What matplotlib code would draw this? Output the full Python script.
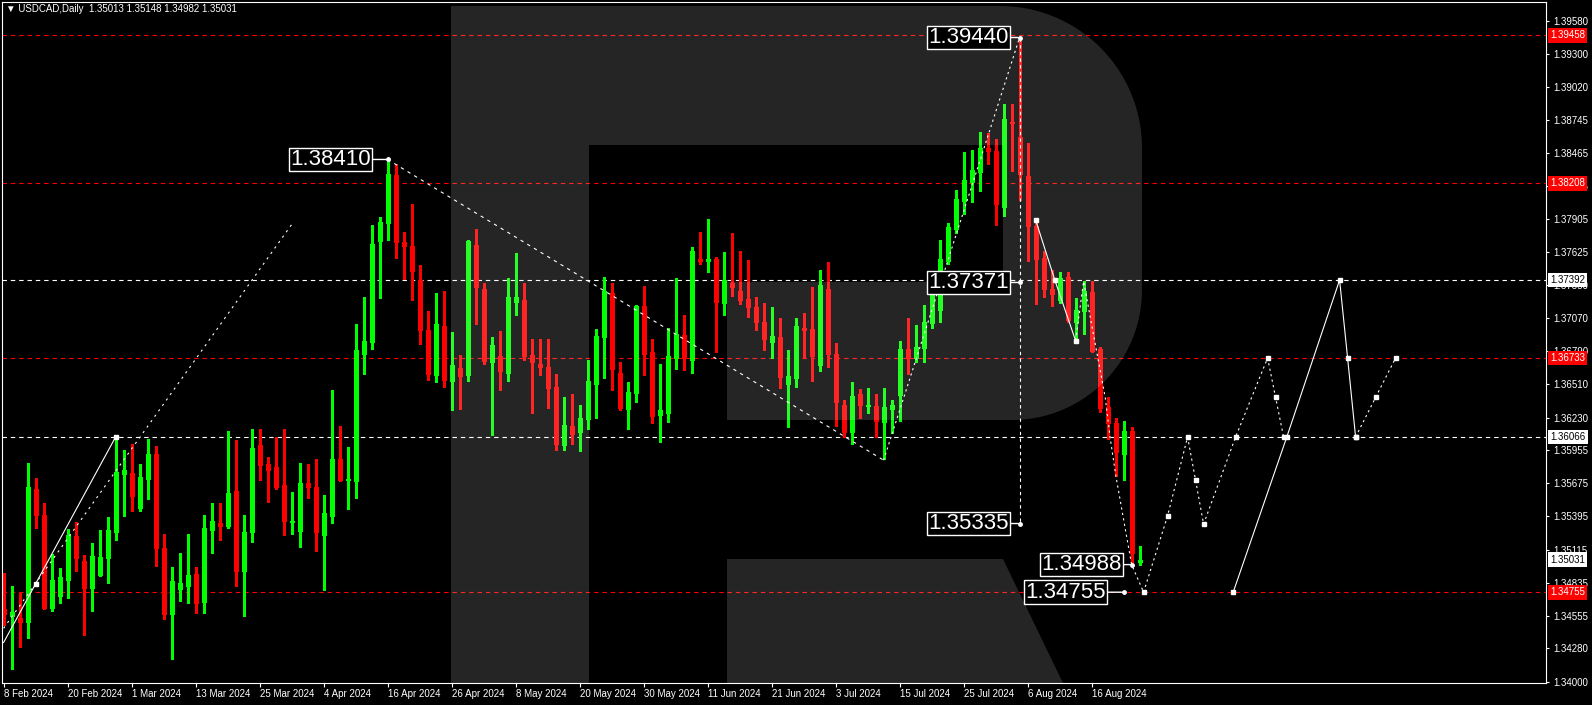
import numpy as np
import matplotlib
matplotlib.use("Agg")
import matplotlib.pyplot as plt
from matplotlib.path import Path
from matplotlib.patches import PathPatch
import matplotlib.transforms as mtransforms

plt.rcParams['font.family'] = ['Liberation Sans', 'DejaVu Sans']

# ---------------- data ----------------
title = "\u25BC USDCAD,Daily  1.35013 1.35148 1.34982 1.35031"

opens = [1.3461, 1.3455, 1.3454, 1.3450, 1.3563, 1.3541, 1.3462, 1.3472, 1.3486, 1.3523,
         1.3502, 1.3479, 1.3490, 1.3504, 1.3526, 1.3575, 1.3576, 1.3547, 1.3571, 1.3592,
         1.3513, 1.3457, 1.3478, 1.3481, 1.3491, 1.3467, 1.3528, 1.3534, 1.3531, 1.3561,
         1.3493, 1.3526, 1.3600, 1.3584, 1.3581, 1.3566, 1.3535, 1.3527, 1.3568, 1.3564,
         1.3524, 1.3540, 1.3588, 1.3570, 1.3569, 1.3677, 1.3687, 1.3772, 1.3787, 1.3828,
         1.3771, 1.3768, 1.3739, 1.3697, 1.3659, 1.3700, 1.3654, 1.3665, 1.3659, 1.3769,
         1.3732, 1.3670, 1.3675, 1.3661, 1.3721, 1.3722, 1.3676, 1.3668, 1.3666, 1.3649,
         1.3600, 1.3616, 1.3611, 1.3622, 1.3651, 1.3691, 1.3728, 1.3661, 1.3630, 1.3644,
         1.3717, 1.3678, 1.3625, 1.3627, 1.3673, 1.3693, 1.3672, 1.3757, 1.3755, 1.3757,
         1.3720, 1.3737, 1.3730, 1.3723, 1.3716, 1.3704, 1.3687, 1.3691, 1.3651, 1.3656,
         1.3699, 1.3698, 1.3667, 1.3732, 1.3677, 1.3634, 1.3611, 1.3643, 1.3633, 1.3633,
         1.3619, 1.3630, 1.3642, 1.3681, 1.3673, 1.3682, 1.3703, 1.3714, 1.3755, 1.3782,
         1.3806, 1.3822, 1.3830, 1.3851, 1.3848, 1.3801, 1.3873, 1.3860, 1.3827, 1.3785,
         1.3758, 1.3732, 1.3722, 1.3742, 1.3704, 1.3713, 1.3729, 1.3681, 1.3632, 1.3618,
         1.3592, 1.3612, 1.35013]
highs = [1.3492, 1.3481, 1.3475, 1.3585, 1.3572, 1.3551, 1.3508, 1.3496, 1.3529, 1.3535,
         1.3507, 1.3517, 1.3528, 1.3539, 1.3606, 1.3596, 1.3601, 1.3584, 1.3605, 1.3599,
         1.3525, 1.3497, 1.3509, 1.3525, 1.3497, 1.3541, 1.3551, 1.3551, 1.3612, 1.3604,
         1.3541, 1.3613, 1.3613, 1.3590, 1.3607, 1.3613, 1.3560, 1.3585, 1.3584, 1.3588,
         1.3558, 1.3646, 1.3616, 1.3598, 1.3702, 1.3725, 1.3786, 1.3792, 1.3841, 1.3837,
         1.3780, 1.3803, 1.3752, 1.3713, 1.3728, 1.3730, 1.3695, 1.3676, 1.3773, 1.3782,
         1.3737, 1.3691, 1.3696, 1.3741, 1.3762, 1.3737, 1.3689, 1.3689, 1.3689, 1.3660,
         1.3640, 1.3643, 1.3634, 1.3672, 1.3698, 1.3742, 1.3737, 1.3670, 1.3653, 1.3718,
         1.3734, 1.3689, 1.3668, 1.3699, 1.3741, 1.3710, 1.3767, 1.3780, 1.3791, 1.3759,
         1.3763, 1.3779, 1.3764, 1.3756, 1.3725, 1.3720, 1.3716, 1.3707, 1.3680, 1.3707,
         1.3711, 1.3733, 1.3748, 1.3754, 1.3686, 1.3638, 1.3653, 1.3647, 1.3648, 1.3643,
         1.3648, 1.3638, 1.3688, 1.3707, 1.3701, 1.3718, 1.3747, 1.3773, 1.3787, 1.3815,
         1.3847, 1.3849, 1.3864, 1.3863, 1.3858, 1.3888, 1.3888, 1.3944, 1.3855, 1.3790,
         1.3764, 1.3748, 1.3746, 1.3746, 1.3724, 1.3738, 1.3738, 1.3683, 1.3640, 1.3623,
         1.3620, 1.3615, 1.35148]
lows = [1.3448, 1.3411, 1.3429, 1.3437, 1.3530, 1.3461, 1.3460, 1.3466, 1.3471, 1.3493,
        1.3439, 1.3460, 1.3489, 1.3483, 1.3520, 1.3540, 1.3544, 1.3544, 1.3554, 1.3498,
        1.3453, 1.3419, 1.3468, 1.3466, 1.3458, 1.3458, 1.3509, 1.3520, 1.3530, 1.3481,
        1.3455, 1.3518, 1.3570, 1.3552, 1.3563, 1.3524, 1.3525, 1.3514, 1.3555, 1.3510,
        1.3477, 1.3534, 1.3569, 1.3546, 1.3555, 1.3660, 1.3681, 1.3724, 1.3773, 1.3758,
        1.3740, 1.3722, 1.3685, 1.3655, 1.3653, 1.3649, 1.3629, 1.3630, 1.3654, 1.3702,
        1.3668, 1.3608, 1.3646, 1.3654, 1.3710, 1.3672, 1.3627, 1.3659, 1.3631, 1.3596,
        1.3596, 1.3601, 1.3595, 1.3613, 1.3623, 1.3656, 1.3646, 1.3629, 1.3613, 1.3636,
        1.3659, 1.3618, 1.3602, 1.3619, 1.3664, 1.3663, 1.3661, 1.3753, 1.3746, 1.3678,
        1.3710, 1.3726, 1.3719, 1.3708, 1.3697, 1.3680, 1.3673, 1.3648, 1.3615, 1.3649,
        1.3674, 1.3654, 1.3662, 1.3666, 1.3616, 1.3607, 1.3601, 1.3623, 1.3627, 1.3607,
        1.3588, 1.3610, 1.3620, 1.3660, 1.3670, 1.3670, 1.3699, 1.3704, 1.3753, 1.3779,
        1.3795, 1.3805, 1.3814, 1.3837, 1.3786, 1.3793, 1.3831, 1.3807, 1.3755, 1.3719,
        1.3725, 1.3717, 1.3720, 1.3704, 1.3688, 1.3694, 1.3678, 1.3628, 1.3605, 1.3574,
        1.3570, 1.34988, 1.34982]
closes = [1.3457, 1.3459, 1.3450, 1.3564, 1.3541, 1.3462, 1.3486, 1.3488, 1.3524, 1.3504,
          1.3479, 1.3506, 1.3505, 1.3528, 1.3577, 1.3579, 1.3557, 1.3573, 1.3592, 1.3513,
          1.3457, 1.3485, 1.3483, 1.3490, 1.3466, 1.3530, 1.3536, 1.3531, 1.3559, 1.3493,
          1.3526, 1.3597, 1.3583, 1.3579, 1.3564, 1.3536, 1.3536, 1.3568, 1.3564, 1.3526,
          1.3542, 1.3588, 1.3570, 1.3571, 1.3680, 1.3688, 1.3770, 1.3788, 1.3829, 1.3771,
          1.3768, 1.3747, 1.3697, 1.3660, 1.3702, 1.3655, 1.3667, 1.3658, 1.3772, 1.3733,
          1.3671, 1.3684, 1.3662, 1.3725, 1.3725, 1.3675, 1.3670, 1.3666, 1.3648, 1.3601,
          1.3617, 1.3609, 1.3623, 1.3654, 1.3692, 1.3730, 1.3664, 1.3631, 1.3645, 1.3717,
          1.3677, 1.3624, 1.3629, 1.3675, 1.3694, 1.3673, 1.3764, 1.3755, 1.3757, 1.3721,
          1.3739, 1.3733, 1.3722, 1.3716, 1.3704, 1.3689, 1.3692, 1.3657, 1.3658, 1.3700,
          1.3697, 1.3675, 1.3735, 1.3677, 1.3636, 1.3611, 1.3641, 1.3634, 1.3634, 1.3620,
          1.3632, 1.3634, 1.3681, 1.3673, 1.3683, 1.3704, 1.3732, 1.3757, 1.3784, 1.3808,
          1.3824, 1.3832, 1.3851, 1.3848, 1.3803, 1.3875, 1.3872, 1.3829, 1.3785, 1.3757,
          1.3732, 1.3727, 1.3741, 1.3705, 1.3714, 1.3730, 1.3679, 1.3631, 1.3618, 1.3594,
          1.3612, 1.3509, 1.35031]

date_labels = ['8 Feb 2024', '20 Feb 2024', '1 Mar 2024', '13 Mar 2024', '25 Mar 2024',
               '4 Apr 2024', '16 Apr 2024', '26 Apr 2024', '8 May 2024', '20 May 2024',
               '30 May 2024', '11 Jun 2024', '21 Jun 2024', '3 Jul 2024', '15 Jul 2024',
               '25 Jul 2024', '6 Aug 2024', '16 Aug 2024']
date_label_bars = list(range(0, 137, 8))

price_ticks = [1.39580, 1.39300, 1.39020, 1.38745, 1.38465, 1.38185, 1.37905, 1.37625,
               1.37350, 1.37070, 1.36790, 1.36510, 1.36230, 1.35955, 1.35675, 1.35395,
               1.35115, 1.34835, 1.34555, 1.34280, 1.34000]

red_levels = [1.39458, 1.38208, 1.36733, 1.34755]
white_levels = [1.37392, 1.36066]
last_price = 1.35031

# annotated price labels (bar index, price)
label_bars = [48, 127, 127, 127, 141, 140]
label_prices = [1.38410, 1.39440, 1.37371, 1.35335, 1.34988, 1.34755]

# drawn trend / zigzag objects: (bar index list, price list)
solid_up_x = [0, 14];          solid_up_y = [1.3433, 1.36066]
dot_up_x = [0, 36];            dot_up_y = [1.3445, 1.3786]
dash_down_x = [48, 110];       dash_down_y = [1.3841, 1.3587]
dot_rally_x = [110, 127];      dot_rally_y = [1.3587, 1.3944]
vert_x = [127, 127];           vert_y = [1.3944, 1.35335]
zz_solid_x = [129, 131.4, 134]; zz_solid_y = [1.3790, 1.37392, 1.3688]
zz_dot_x = [134, 135, 137.7, 138.3, 139, 141, 142.5]
zz_dot_y = [1.3688, 1.3738, 1.3640, 1.3607, 1.3575, 1.34988, 1.34755]
fc_dot_x = [142.5, 145.5, 148, 149, 150, 154, 158, 159, 160]
fc_dot_y = [1.34755, 1.3540, 1.36066, 1.3570, 1.3533, 1.36066, 1.36733, 1.3640, 1.36066]
fc_solid_x = [153.7, 160.4, 167, 168, 169]
fc_solid_y = [1.34755, 1.36066, 1.37392, 1.36733, 1.36066]
fc_dot2_x = [169, 171.5, 174]
fc_dot2_y = [1.36066, 1.3640, 1.36733]

# ---------------- layout ----------------
W, H, DPI = 1592, 705, 100
PL, PR, PT, PB = 2, 1546, 2, 683
BAR_PX = 8.0
YMAX, YMIN = 1.39740, 1.33988

fig = plt.figure(figsize=(W / DPI, H / DPI), dpi=DPI, facecolor='black')
ax = fig.add_axes([PL / W, 1 - PB / H, (PR - PL) / W, (PB - PT) / H])
ax.set_facecolor('black')
x0 = -0.2
ax.set_xlim(x0, x0 + (PR - PL) / BAR_PX)
ax.set_ylim(YMIN, YMAX)

for s in ax.spines.values():
    s.set_color('white')
    s.set_linewidth(0.8)

# pixel transform (top-left origin) for the watermark
pix = mtransforms.Affine2D().scale(1 / DPI, -1 / DPI).translate(0, H / DPI) + fig.dpi_scale_trans

# ---------------- level lines ----------------
for lv in red_levels:
    ax.axhline(lv, color='#FF0000', lw=0.8, ls=(0, (4, 3.5)), zorder=1.5)
for lv in white_levels:
    ax.axhline(lv, color='white', lw=0.8, ls=(0, (4, 3.5)), zorder=1.5)

# ---------------- candles ----------------
o = np.array(opens); h = np.array(highs); l = np.array(lows); c = np.array(closes)
idx = np.arange(len(o))
cols = np.where(c >= o, '#00FF00', '#FF0000')
ax.vlines(idx, l, h, colors=cols, lw=0.8, zorder=2, antialiased=False)
body_b = np.minimum(o, c)
body_t = np.maximum(o, c)
body_t = np.maximum(body_t, body_b + 0.00008)
ax.vlines(idx, body_b, body_t, colors=cols, lw=3.6, zorder=2.5, antialiased=False,
          capstyle='butt')

# ---------------- watermark R ----------------
def arc(cx, cy, r, a0, a1, n=40):
    t = np.radians(np.linspace(a0, a1, n))
    return np.column_stack([cx + r * np.cos(t), cy - r * np.sin(t)])

stem = np.array([(451, 6), (589, 6), (589, 712), (451, 712)])
bowl = np.vstack([[(589, 6), (1000, 6)], arc(1000, 148, 142, 90, 0), [(1142, 290)],
                  arc(1012, 290, 130, 0, -90),
                  [(727, 420), (727, 282), (1003, 282), (1003, 145), (589, 145)]])
leg = np.array([(727, 559), (1003, 559), (1077, 712), (727, 712)])
verts, codes = [], []
for poly in (stem, bowl, leg):
    verts.extend(poly.tolist()); verts.append(poly[0].tolist())
    codes.extend([Path.MOVETO] + [Path.LINETO] * (len(poly) - 1) + [Path.CLOSEPOLY])
rpatch = PathPatch(Path(verts, codes), transform=pix, facecolor=(1, 1, 1, 0.15),
                   edgecolor='none', zorder=4)
ax.add_patch(rpatch)

# ---------------- drawn lines ----------------
lw = 0.8
ax.plot(solid_up_x, solid_up_y, color='white', lw=lw, zorder=5)
ax.plot([4, 14], [solid_up_y[0] + (solid_up_y[1] - solid_up_y[0]) * 4 / 14, solid_up_y[1]],
        ls='none', marker='s', ms=3.5, color='white', zorder=5)
ax.plot(dot_up_x, dot_up_y, color='white', lw=lw, ls=(0, (2, 4)), zorder=5)
ax.plot(dash_down_x, dash_down_y, color='white', lw=lw, ls=(0, (3, 4)), zorder=5)
ax.plot(dot_rally_x, dot_rally_y, color='white', lw=lw, ls=(0, (2, 3)), zorder=5)
ax.plot(vert_x, vert_y, color='white', lw=lw, ls=(0, (3, 3)), zorder=5)
ax.plot(zz_solid_x, zz_solid_y, color='white', lw=lw, marker='s', ms=3.5, zorder=5)
ax.plot(zz_dot_x, zz_dot_y, color='white', lw=lw, ls=(0, (2, 3)), zorder=5)
ax.plot(fc_dot_x, fc_dot_y, color='white', lw=lw, ls=(0, (2, 3)), marker='s', ms=2.5, zorder=5)
ax.plot(fc_solid_x, fc_solid_y, color='white', lw=lw, marker='s', ms=3, zorder=5)
ax.plot(fc_dot2_x, fc_dot2_y, color='white', lw=lw, ls=(0, (2, 3)), marker='s', ms=2.5, zorder=5)

# ---------------- big price labels ----------------
label_offsets = [-17, -11, -11, -11, -10, -18]
for bi, pr, off in zip(label_bars, label_prices, label_offsets):
    ax.annotate(f'{pr:.5f}', xy=(bi, pr), xytext=(off, 0), textcoords='offset pixels',
                ha='right', va='center', fontsize=16,
                family=['Liberation Sans Narrow', 'Liberation Sans', 'DejaVu Sans'],
                color='white', zorder=8,
                bbox=dict(boxstyle='square,pad=0.06', fc='black', ec='white', lw=1),
                arrowprops=dict(arrowstyle='-', color='white', lw=1, shrinkA=0, shrinkB=1))
    ax.plot([bi], [pr], marker='o', ms=2.5, color='white', zorder=8)

# ---------------- axes ticks ----------------
ax.yaxis.tick_right()
ax.set_yticks(price_ticks)
ax.set_yticklabels([f'{t:.5f}' for t in price_ticks])
ax.tick_params(axis='y', colors='white', length=2.5, width=0.8, pad=2.5, labelsize=7)
ax.set_xticks(date_label_bars)
ax.set_xticklabels(date_labels)
for t in ax.get_xticklabels():
    t.set_ha('left')
ax.tick_params(axis='x', colors='white', length=3, width=0.8, pad=1.5, labelsize=7)

blend = mtransforms.blended_transform_factory(ax.transAxes, ax.transData)
lbl_tr = mtransforms.offset_copy(blend, fig=fig, x=4, y=0, units='dots')
for lv in red_levels:
    ax.text(1.0, lv, f'{lv:.5f}', transform=lbl_tr, ha='left', va='center', fontsize=7,
            color='white', clip_on=False, zorder=10,
            bbox=dict(boxstyle='square,pad=0.25', fc='#FF0000', ec='none'))
for lv in white_levels + [last_price]:
    ax.text(1.0, lv, f'{lv:.5f}', transform=lbl_tr, ha='left', va='center', fontsize=7,
            color='black', clip_on=False, zorder=10,
            bbox=dict(boxstyle='square,pad=0.25', fc='white', ec='none'))

fig.text(6 / W, 1 - 9 / H, title, fontsize=7, color='white', ha='left', va='center')

fig.savefig('out.png', dpi=DPI, facecolor='black')
